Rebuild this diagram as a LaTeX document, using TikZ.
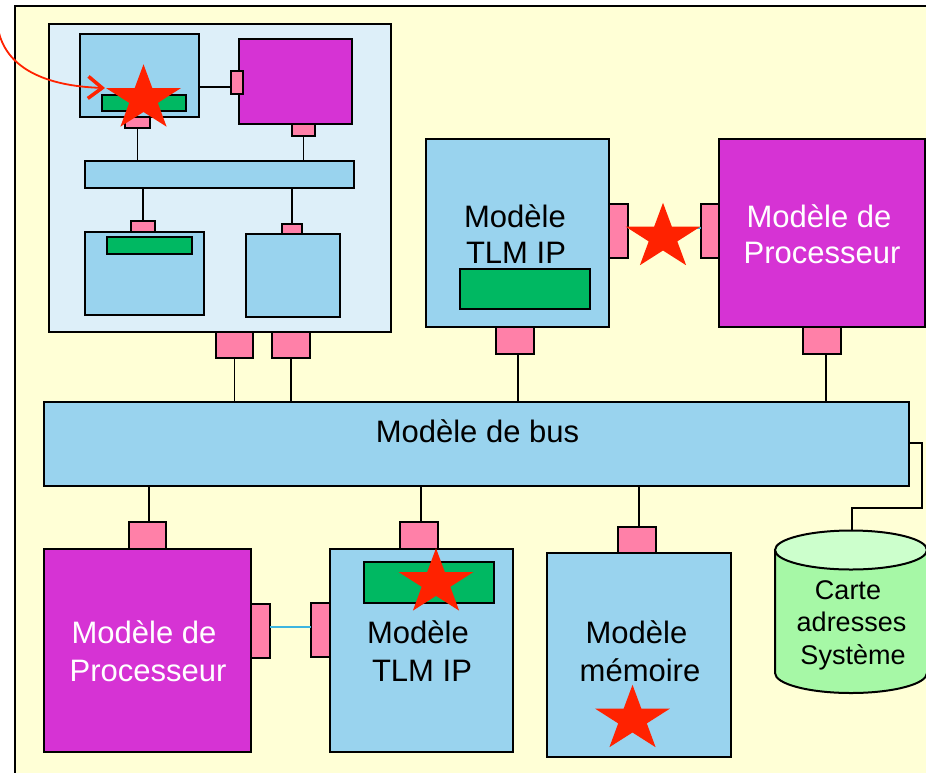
\documentclass[tikz,border=0pt]{standalone}
\usepackage{fontspec}
\setmainfont{Liberation Sans}
\usetikzlibrary{fit,arrows.meta}
\definecolor{bgyel}{HTML}{FFFFD6}
\definecolor{panelblue}{HTML}{DDEFF9}
\definecolor{lblue}{HTML}{99D3EE}
\definecolor{magen}{HTML}{D633D4}
\definecolor{pinkp}{HTML}{FF80A8}
\definecolor{greenb}{HTML}{00B862}
\definecolor{starred}{HTML}{FF2200}
\definecolor{cylbody}{HTML}{A6F8A6}
\definecolor{cyltop}{HTML}{CCFFCC}
\definecolor{cyanl}{HTML}{3DB5E0}
\tikzset{
  bx/.style={draw=black, line width=2pt, inner sep=0pt, outer sep=0pt},
  lbbox/.style={bx, fill=lblue},
  mgbox/.style={bx, fill=magen},
  port/.style={bx, fill=pinkp},
  gbar/.style={bx, fill=greenb},
  wire/.style={draw=black, line width=1.8pt},
  cwire/.style={draw=cyanl, line width=1.6pt},
  lbl/.style={font=\fontsize{31}{37}\selectfont, anchor=base, inner sep=0pt},
  wlbl/.style={lbl, text=white},
  slbl/.style={font=\fontsize{27}{32}\selectfont, anchor=base, inner sep=0pt},
  redstar/.pic={\fill[starred, xscale=1.14, yscale=-1] (90:34.5) -- (126:13.2) -- (162:34.5) -- (198:13.2) -- (234:34.5) -- (270:13.2) -- (306:34.5) -- (342:13.2) -- (18:34.5) -- (54:13.2) -- cycle;}
}
\begin{document}
\begin{tikzpicture}[x=1pt,y=-1pt]
\clip (0,0) rectangle (926,772);
\fill[white] (0,0) rectangle (926,772);
% outer frame
\draw[fill=bgyel, line width=2pt] (15,6) rectangle (1000,900);
% inner panel
\node[bx, fill=panelblue, fit={(49,24) (391,332)}] (panel) {};
\node[lbbox, fit={(80,34) (199,117)}] (tl) {};
\node[gbar, fit={(102,95) (186,111)}] (tlg) {};
\node[port, fit={(125,117) (150,128)}] (tlp) {};
\node[mgbox, fit={(239,39) (352,124)}] (tm) {};
\node[port, fit={(231,71) (243,94)}] (tmpl) {};
\node[port, fit={(292,124) (315,136)}] (tmpb) {};
\node[lbbox, fit={(85,161) (354,188)}] (ibus) {};
\node[port, fit={(131,221) (155,232)}] (blp) {};
\node[lbbox, fit={(85,232) (204,315)}] (bl) {};
\node[gbar, fit={(107,237) (192,254)}] (blg) {};
\node[port, fit={(282,224) (302,234)}] (brp) {};
\node[lbbox, fit={(246,234) (340,317)}] (br) {};
\node[port, fit={(216,332) (253,358)}] (pp1) {};
\node[port, fit={(272,332) (310,358)}] (pp2) {};
% top right
\node[lbbox, fit={(426,139) (609,327)}] (tlm) {};
\node[gbar, fit={(460,269) (590,309)}] (tlmg) {};
\node[port, fit={(609,204) (628,258)}] (tlmr) {};
\node[port, fit={(496,327) (534,354)}] (tlmb) {};
\node[mgbox, fit={(719,139) (925,327)}] (proc1) {};
\node[port, fit={(701,204) (719,258)}] (proc1l) {};
\node[port, fit={(803,327) (841,354)}] (proc1b) {};
% bus
\node[lbbox, fit={(44,402) (909,486)}] (bus) {};
% bottom
\node[port, fit={(129,522) (166,549)}] (proc2p) {};
\node[mgbox, fit={(44,549) (251,752)}] (proc2) {};
\node[port, fit={(251,604) (270,658)}] (proc2r) {};
\node[port, fit={(311,603) (330,657)}] (tlm2l) {};
\node[lbbox, fit={(330,549) (513,752)}] (tlm2) {};
\node[port, fit={(400,522) (438,549)}] (tlm2p) {};
\node[gbar, fit={(364,562) (494,603)}] (tlm2g) {};
\node[port, fit={(618,527) (656,553)}] (memp) {};
\node[lbbox, fit={(547,553) (731,757)}] (mem) {};
% cylinder
\fill[cylbody] (775,550) -- (775,673) arc[start angle=180, end angle=0, x radius=76, y radius=20] -- (927,550) -- cycle;
\draw[line width=2pt] (775,550) -- (775,673) arc[start angle=180, end angle=0, x radius=76, y radius=20] -- (927,550);
\draw[line width=2pt, fill=cyltop] (851,550) ellipse[x radius=76, y radius=19.5];
\coordinate (cyl) at (852,530.5);
% connectors
\draw[wire] (tl.east |- 0,87) -- (tmpl.west |- 0,87);
\draw[wire] (tlp.south) -- (tlp.south |- ibus.north);
\draw[wire] (tmpb.south) -- (tmpb.south |- ibus.north);
\draw[wire] (blp.north |- ibus.south) -- (blp.north);
\draw[wire] (brp.north |- ibus.south) -- (brp.north);
\draw[wire] (pp1.south) -- (pp1.south |- bus.north);
\draw[wire] (pp2.south) -- (pp2.south |- bus.north);
\draw[wire] ([xshift=3pt]tlmb.south) -- ([xshift=3pt]tlmb.south |- bus.north);
\draw[wire] ([xshift=4pt]proc1b.south) -- ([xshift=4pt]proc1b.south |- bus.north);
\draw[wire] ([xshift=1.5pt]proc2p.north |- bus.south) -- ([xshift=1.5pt]proc2p.north);
\draw[wire] ([xshift=2pt]tlm2p.north |- bus.south) -- ([xshift=2pt]tlm2p.north);
\draw[wire] ([xshift=2pt]memp.north |- bus.south) -- ([xshift=2pt]memp.north);
\draw[cwire] (tlmr.east |- 0,228) -- (proc1l.west |- 0,228);
\draw[cwire] (proc2r.east |- 0,627) -- (tlm2l.west |- 0,627);
\draw[wire] (bus.east |- 0,443) -- (922,443) -- (922,508) -- (852,508) -- (cyl);
% labels
\node[lbl] (t1a) at (515,227) {Modèle};
\node[lbl] (t1b) at (516,263) {TLM IP};
\node[wlbl] (p1a) at (819,227) {Modèle de};
\node[wlbl] (p1b) at (822,263) {Processeur};
\node[lbl] (busl) at (477.5,442) {Modèle de bus};
\node[wlbl] (p2a) at (144,643) {Modèle de};
\node[wlbl] (p2b) at (148,681) {Processeur};
\node[lbl] (t2a) at (418,643) {Modèle};
\node[lbl] (t2b) at (422,681) {TLM IP};
\node[lbl] (m1) at (636.5,643) {Modèle};
\node[lbl] (m2) at (640,681) {mémoire};
\node[slbl] (c1) at (848,599) {Carte};
\node[slbl] (c2) at (851.5,631) {adresses};
\node[slbl] (c3) at (853,664) {Système};
% arrow
\draw[starred, line width=1.8pt, -{Straight Barb[length=14pt,width=22pt,line width=3.5pt]}] (-1,33) .. controls (8,68) and (45,86) .. (105,88);
% stars
\pic at (143.5,98.8) {redstar};
\pic at (663,237.3) {redstar};
\pic at (436,582.7) {redstar};
\pic at (632.5,719.3) {redstar};
\end{tikzpicture}
\end{document}
